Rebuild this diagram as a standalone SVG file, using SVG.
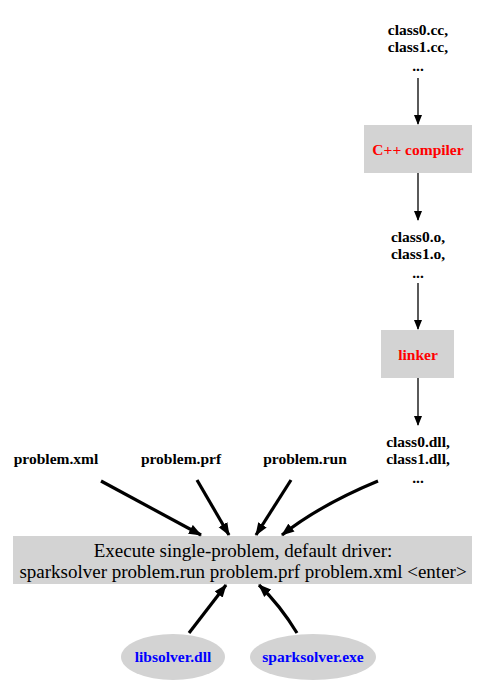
<svg xmlns="http://www.w3.org/2000/svg" width="477" height="697" viewBox="0 0 477 697">
<style>
.lbl{font-family:"Liberation Serif","Times New Roman",serif;font-weight:bold;font-size:15.5px;fill:#000;text-anchor:middle}
.box{fill:#d3d3d3;stroke:none}
.red{font-family:"Liberation Serif","Times New Roman",serif;font-weight:bold;font-size:15.5px;fill:#ff0000;text-anchor:middle}
.blue{font-family:"Liberation Serif","Times New Roman",serif;font-weight:bold;font-size:15.5px;fill:#0000ff;text-anchor:middle}
.main{font-family:"Liberation Serif","Times New Roman",serif;font-size:19px;fill:#000;text-anchor:middle}
.thin{stroke:#000;stroke-width:1.3;fill:none}
.thick{stroke:#000;stroke-width:3.2;fill:none}
</style>
<defs>
<marker id="ah" markerWidth="10" markerHeight="10" refX="9" refY="5" orient="auto" markerUnits="userSpaceOnUse" viewBox="0 0 10 10">
<path d="M0,1 L10,5 L0,9 Z" fill="#000"/>
</marker>
<marker id="ahT" markerWidth="13" markerHeight="11" refX="12" refY="5.5" orient="auto" markerUnits="userSpaceOnUse" viewBox="0 0 13 11">
<path d="M0,0.5 L13,5.5 L0,10.5 Z" fill="#000"/>
</marker>
</defs>
<rect width="477" height="697" fill="#fff"/>
<g id="ccfiles">
<text class="lbl" x="418" y="35">class0.cc,</text>
<text class="lbl" x="418" y="52">class1.cc,</text>
<text class="lbl" x="418" y="71">...</text>
</g>
<g id="compiler">
<rect class="box" x="364" y="125" width="108" height="48"/>
<text class="red" x="418" y="155">C++ compiler</text>
</g>
<g id="ofiles">
<text class="lbl" x="418" y="242">class0.o,</text>
<text class="lbl" x="418" y="259">class1.o,</text>
<text class="lbl" x="418" y="278">...</text>
</g>
<g id="linker">
<rect class="box" x="381" y="330" width="73" height="48"/>
<text class="red" x="418" y="360">linker</text>
</g>
<g id="dllfiles">
<text class="lbl" x="418" y="447">class0.dll,</text>
<text class="lbl" x="418" y="464">class1.dll,</text>
<text class="lbl" x="418" y="483">...</text>
</g>
<g id="xml"><text class="lbl" x="56" y="464">problem.xml</text></g>
<g id="prf"><text class="lbl" x="181" y="464">problem.prf</text></g>
<g id="run"><text class="lbl" x="305" y="464">problem.run</text></g>
<g id="execute">
<rect class="box" x="13" y="536" width="459" height="48"/>
<text class="main" x="243" y="557">Execute single-problem, default driver:</text>
<text class="main" x="243" y="578">sparksolver problem.run problem.prf problem.xml &lt;enter&gt;</text>
</g>
<g id="libsolver">
<ellipse class="box" cx="173" cy="657" rx="52" ry="23"/>
<text class="blue" x="173" y="662">libsolver.dll</text>
</g>
<g id="sparksolver">
<ellipse class="box" cx="313" cy="657" rx="63" ry="23"/>
<text class="blue" x="313" y="662">sparksolver.exe</text>
</g>
<g id="connectors">
<path class="thin" d="M418,78 L418,124" marker-end="url(#ah)"/>
<path class="thin" d="M418,173 L418,220" marker-end="url(#ah)"/>
<path class="thin" d="M418,283 L418,329" marker-end="url(#ah)"/>
<path class="thin" d="M418,378 L418,425" marker-end="url(#ah)"/>
<path class="thick" d="M101,481 L201,535" marker-end="url(#ahT)"/>
<path class="thick" d="M197,480 L229,535" marker-end="url(#ahT)"/>
<path class="thick" d="M291,480 L256,535" marker-end="url(#ahT)"/>
<path class="thick" d="M378,481 Q320,505 282,535" marker-end="url(#ahT)"/>
<path class="thick" d="M189,633 L226,585" marker-end="url(#ahT)"/>
<path class="thick" d="M297,633 Q280,605 259,585" marker-end="url(#ahT)"/>
</g>
</svg>
